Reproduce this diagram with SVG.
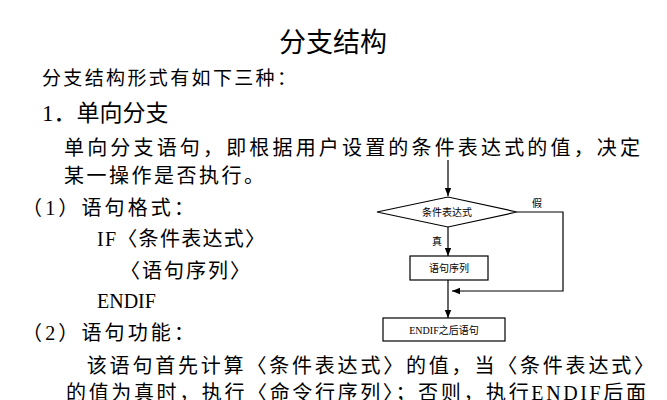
<svg xmlns="http://www.w3.org/2000/svg" width="667" height="400" viewBox="0 0 667 400">
<style>
text{font-family:"Liberation Serif","Noto Sans CJK SC",serif;fill:#000}
.b{font-size:20px}
.s{font-size:10px}
.ln{stroke:#000;stroke-width:1.2;fill:none}
.bx{stroke:#000;stroke-width:1.2;fill:#fff}
</style>
<defs><marker id="a" viewBox="0 0 10 10" refX="10" refY="5" markerWidth="7" markerHeight="7" orient="auto"><path d="M0,1 L10,5 L0,9 Z" fill="#000"/></marker></defs>
<rect width="667" height="400" fill="#fff"/>
<text x="333" y="52" font-size="27" text-anchor="middle">分支结构</text>
<text x="42" y="85" font-size="19" textLength="254">分支结构形式有如下三种：</text>
<text x="42" y="121" font-size="23">1．单向分支</text>
<text x="64" y="155" class="b" textLength="576">单向分支语句，即根据用户设置的条件表达式的值，决定</text>
<text x="64" y="183" class="b" textLength="200">某一操作是否执行。</text>
<text x="22" y="215" class="b" textLength="172">（1）语句格式：</text>
<text x="97" y="246" class="b" textLength="168">IF〈条件表达式〉</text>
<text x="120" y="278" class="b" textLength="130">〈语句序列〉</text>
<text x="97" y="308" class="b">ENDIF</text>
<text x="22" y="340" class="b" textLength="172">（2）语句功能：</text>
<text x="64" y="373" class="b" textLength="590">　该语句首先计算〈条件表达式〉的值，当〈条件表达式〉</text>
<text x="66" y="400" class="b" textLength="580">的值为真时，执行〈命令行序列〉；否则，执行ENDIF后面</text>
<g id="connectors">
<line class="ln" x1="448" y1="160" x2="448" y2="196" marker-end="url(#a)"/>
<line class="ln" x1="448" y1="227" x2="448" y2="256" marker-end="url(#a)"/>
<polyline class="ln" points="517,212 563,212 563,291 452,291" marker-end="url(#a)"/>
<line class="ln" x1="448" y1="280" x2="448" y2="318" marker-end="url(#a)"/>
<text x="432" y="245" class="s">真</text>
<text x="532" y="207" class="s">假</text>
</g>
<g id="cond"><polygon class="bx" points="377,212 448,197 517,212 448,227"/><text x="447" y="216" class="s" text-anchor="middle">条件表达式</text></g>
<g id="seq"><rect class="bx" x="410" y="256" width="78" height="24"/><text x="449" y="272" class="s" text-anchor="middle">语句序列</text></g>
<g id="after"><rect class="bx" x="383" y="318" width="122" height="23"/><text x="444" y="334" class="s" text-anchor="middle">ENDIF之后语句</text></g>
</svg>
